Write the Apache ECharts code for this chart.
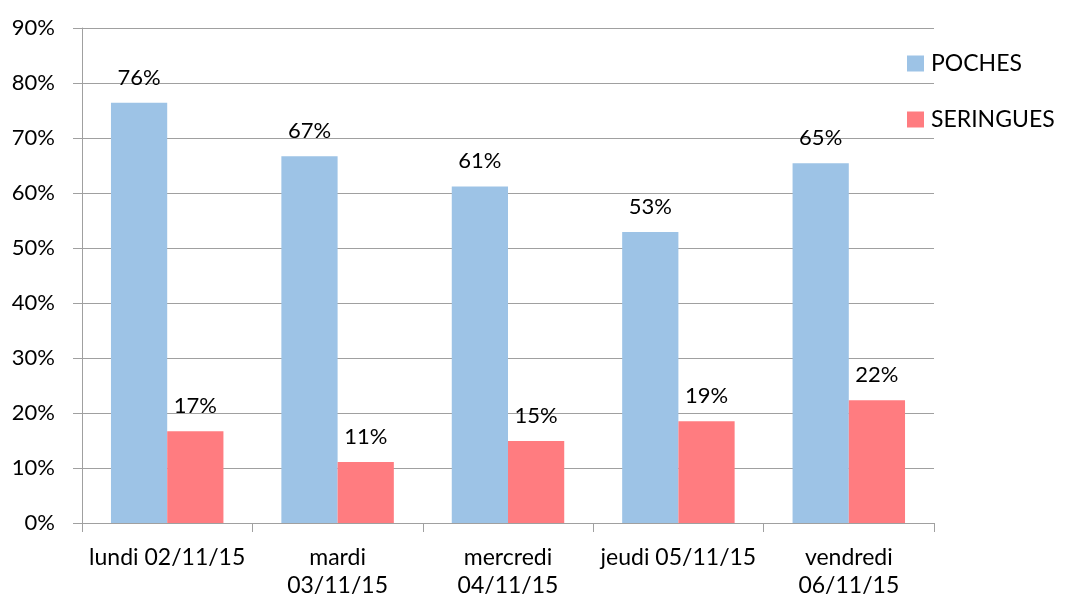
<!DOCTYPE html>
<html><head><meta charset="utf-8">
<script src="https://cdn.jsdelivr.net/npm/echarts@6/dist/echarts.min.js"></script>
<style>html,body{margin:0;padding:0;background:#fff}#c{width:1069px;height:600px}</style>
</head><body><div id="c"></div>
<script>
const categories = ["lundi 02/11/15", "mardi\n03/11/15", "mercredi\n04/11/15", "jeudi 05/11/15", "vendredi\n06/11/15"];
const poches = [76.4, 66.7, 61.2, 52.9, 65.4];
const seringues = [16.7, 11.1, 14.9, 18.5, 22.3];
const seriesNames = ["POCHES", "SERINGUES"];
const FONT = "Lato";
const chart = echarts.init(document.getElementById('c'));
const labelCfg = {show: true, position: 'top', distance: 14, color: '#000', fontFamily: FONT, fontSize: 22,
  formatter: p => Math.round(p.value) + '%'};
chart.setOption({
  animation: false,
  textStyle: {fontFamily: FONT},
  grid: {left: 82, right: 135, top: 28, bottom: 77},
  legend: {orient: 'vertical', left: 907, top: 52, padding: 0, itemWidth: 17, itemHeight: 16, itemGap: 33,
    icon: 'rect', textStyle: {fontFamily: FONT, fontSize: 23, color: '#000', padding: [0,0,0,2]},
    data: seriesNames},
  xAxis: {type: 'category', data: categories,
    axisLine: {lineStyle: {color: '#a0a0a0', width: 1}},
    axisTick: {show: true, length: 9, lineStyle: {color: '#a0a0a0'}},
    axisLabel: {color: '#000', fontFamily: FONT, fontSize: 23, margin: 21, lineHeight: 28, interval: 0}},
  yAxis: {type: 'value', min: 0, max: 90, interval: 10,
    axisLine: {show: true, lineStyle: {color: '#a0a0a0'}},
    axisTick: {show: true, length: 9, lineStyle: {color: '#a0a0a0'}},
    splitLine: {lineStyle: {color: '#a0a0a0'}},
    axisLabel: {color: '#000', fontFamily: FONT, fontSize: 22, margin: 27, formatter: '{value}%'}},
  series: [
    {name: seriesNames[0], type: 'bar', data: poches, itemStyle: {color: '#9dc3e6'}, barGap: '0%', barCategoryGap: '34%', label: labelCfg},
    {name: seriesNames[1], type: 'bar', data: seringues, itemStyle: {color: '#ff7c80'}, label: labelCfg}
  ]
});
</script></body></html>
